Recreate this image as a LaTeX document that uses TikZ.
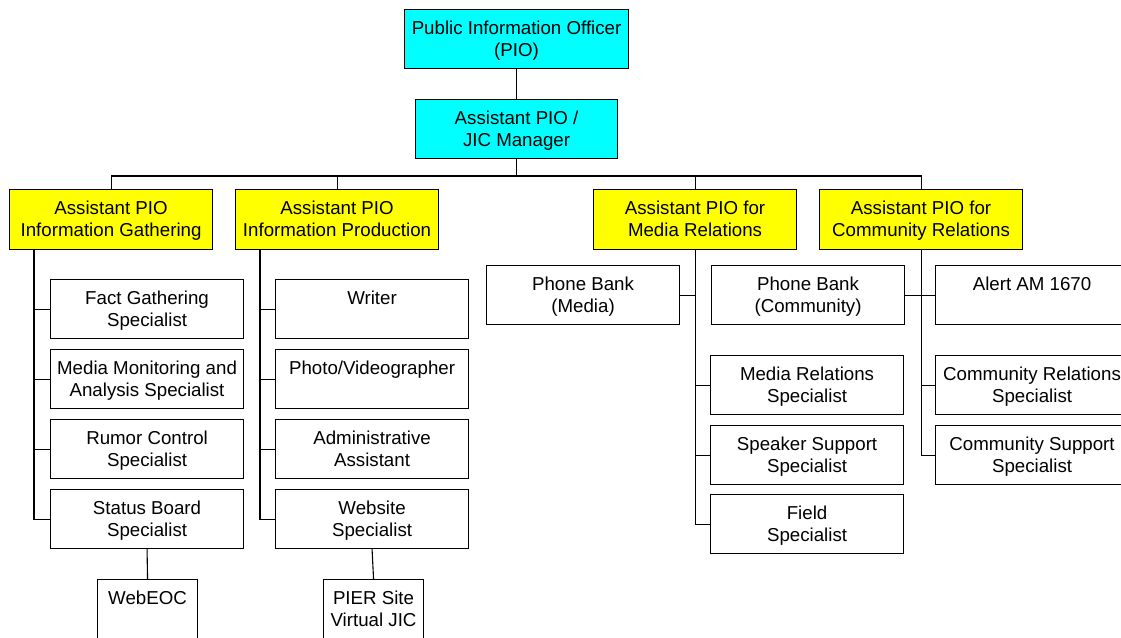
\documentclass[tikz,border=0pt]{standalone}
\usepackage{fontspec}
\setmainfont{Liberation Sans}
\usetikzlibrary{calc}
% top-aligned, centred text block of given width and height
\newcommand{\boxlines}[3]{\parbox[c][#2][t]{#1}{\centering\vspace*{8.75pt}\leavevmode\strut #3\par}}
\definecolor{leadcyan}{RGB}{0,255,255}
\definecolor{leadyellow}{RGB}{255,255,0}
\begin{document}
\begin{tikzpicture}[x=1pt,y=-1pt,
  font=\fontsize{18.7}{22.5}\selectfont,
  box/.style={draw, line width=1.1pt, inner sep=0pt, anchor=north west, fill=white},
  lead/.style={box, fill=leadcyan},
  section/.style={box, fill=leadyellow},
  link/.style={line width=1.1pt}]
\useasboundingbox (0,0) rectangle (1121,637);
\clip (0,0) rectangle (1121,637);

% command staff
\node[lead] (pio) at (404,9) {\boxlines{224pt}{59pt}{Public Information Officer\\(PIO)}};
\node[lead] (jic) at (415,99) {\boxlines{202pt}{59pt}{Assistant PIO /\\JIC Manager}};

% section leads
\node[section] (gather) at (9,189)   {\boxlines{203pt}{60pt}{Assistant PIO\\Information Gathering}};
\node[section] (prod)   at (235,189) {\boxlines{203pt}{60pt}{Assistant PIO\\Information Production}};
\node[section] (media)  at (593,189) {\boxlines{203pt}{60pt}{Assistant PIO for\\Media Relations}};
\node[section] (comm)   at (819,189) {\boxlines{203pt}{60pt}{Assistant PIO for\\Community Relations}};

% information gathering
\node[box] (fact)    at (50,279) {\boxlines{193pt}{59pt}{Fact Gathering\\Specialist}};
\node[box] (monitor) at (50,349) {\boxlines{193pt}{59pt}{Media Monitoring and\\Analysis Specialist}};
\node[box] (rumor)   at (50,419) {\boxlines{193pt}{59pt}{Rumor Control\\Specialist}};
\node[box] (status)  at (50,489) {\boxlines{193pt}{59pt}{Status Board\\Specialist}};
\node[box] (webeoc)  at (97,579) {\boxlines{100pt}{80pt}{WebEOC}};

% information production
\node[box] (writer)  at (275,279) {\boxlines{193pt}{59pt}{Writer}};
\node[box] (photo)   at (275,349) {\boxlines{193pt}{59pt}{Photo/Videographer}};
\node[box] (admin)   at (275,419) {\boxlines{193pt}{59pt}{Administrative\\Assistant}};
\node[box] (website) at (275,489) {\boxlines{193pt}{59pt}{Website\\Specialist}};
\node[box] (pier)    at (323,579) {\boxlines{100pt}{80pt}{PIER Site\\Virtual JIC}};

% media relations
\node[box] (pbmedia) at (486,265) {\boxlines{193pt}{59pt}{Phone Bank\\(Media)}};
\node[box] (mrs)     at (710,355) {\boxlines{193pt}{59pt}{Media Relations\\Specialist}};
\node[box] (speaker) at (710,425) {\boxlines{193pt}{59pt}{Speaker Support\\Specialist}};
\node[box] (field)   at (710,494) {\boxlines{193pt}{59pt}{Field\\Specialist}};

% community relations
\node[box] (pbcomm)   at (711,265) {\boxlines{193pt}{59pt}{Phone Bank\\(Community)}};
\node[box] (alert)    at (935,265) {\boxlines{193pt}{59pt}{Alert AM 1670}};
\node[box] (crs)      at (935,355) {\boxlines{193pt}{59pt}{Community Relations\\Specialist}};
\node[box] (csupport) at (935,425) {\boxlines{193pt}{59pt}{Community Support\\Specialist}};

% reporting lines
\coordinate (bus) at (516,176);
\draw[link] (pio.south) -- (jic.north);
\draw[link] (jic.south) -- (jic.south |- bus);
\draw[link] (gather.north) |- (bus) -| (comm.north);
\draw[link] (prod.north) -- (prod.north |- bus);
\draw[link] (media.north) -- (media.north |- bus);

\coordinate (gspine) at ($(gather.south west)+(25,0)$);
\draw[link] (gspine) |- (status.west);
\foreach \n in {fact,monitor,rumor} \draw[link] (\n.west) -- (\n.west -| gspine);
\draw[link] (status.south) -- (webeoc.north);

\coordinate (pspine) at ($(prod.south west)+(25,0)$);
\draw[link] (pspine) |- (website.west);
\foreach \n in {writer,photo,admin} \draw[link] (\n.west) -- (\n.west -| pspine);
\draw[link] (website.south) -- (pier.north);

\draw[link] (media.south) |- (field.west);
\draw[link] (pbmedia.east) -- (pbmedia.east -| media.south);
\foreach \n in {mrs,speaker} \draw[link] (\n.west) -- (\n.west -| media.south);

\draw[link] (comm.south) |- (csupport.west);
\draw[link] (pbcomm.east) -- (alert.west);
\draw[link] (crs.west) -- (crs.west -| comm.south);
\end{tikzpicture}
\end{document}
